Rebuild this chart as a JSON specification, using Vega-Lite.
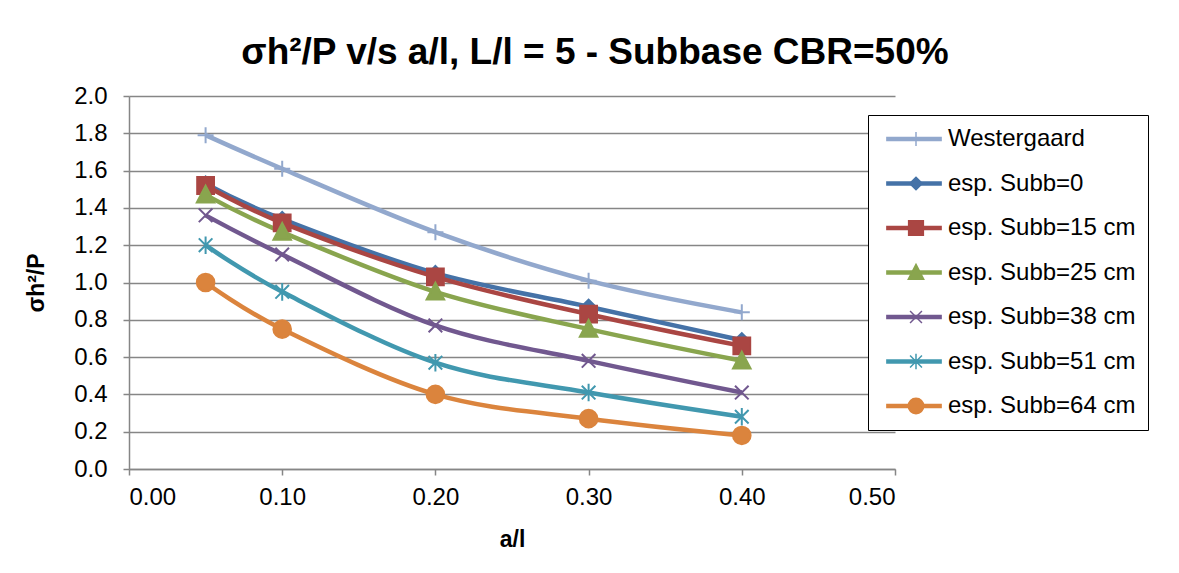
{
  "$schema": "https://vega.github.io/schema/vega-lite/v6.json",
  "autosize": {"type": "none"},
  "width": 766,
  "height": 373,
  "padding": {"left": 129, "top": 96, "right": 284, "bottom": 104},
  "background": "white",
  "config": {
    "view": {"stroke": null},
    "font": "Liberation Sans",
    "axis": {
      "domainColor": "#868686",
      "domainWidth": 1.5,
      "tickColor": "#868686",
      "tickWidth": 1.5,
      "tickSize": 6,
      "labelFont": "Liberation Sans",
      "labelFontSize": 24,
      "labelColor": "#000000",
      "titleFont": "Liberation Sans",
      "titleFontSize": 23,
      "titleFontWeight": "bold",
      "titleColor": "#000000",
      "gridColor": "#868686",
      "gridWidth": 1.5
    },
    "legend": {
      "title": null,
      "labelFont": "Liberation Sans",
      "labelFontSize": 24,
      "labelColor": "#000000",
      "labelLimit": 400,
      "rowPadding": 20.5,
      "symbolSize": 196,
      "symbolOffset": 22,
      "symbolOpacity": 1
    }
  },
  "title": {
    "text": "σh²/P v/s a/l, L/l = 5 - Subbase CBR=50%",
    "font": "Liberation Sans",
    "fontSize": 37,
    "fontWeight": "bold",
    "color": "#000000",
    "anchor": "middle",
    "frame": "group",
    "dx": 83,
    "offset": 12
  },
  "data": {
    "values": [
      {"series": "Westergaard", "x": 0.05, "y": 1.79},
      {"series": "Westergaard", "x": 0.1, "y": 1.61},
      {"series": "Westergaard", "x": 0.2, "y": 1.27},
      {"series": "Westergaard", "x": 0.3, "y": 1.01},
      {"series": "Westergaard", "x": 0.4, "y": 0.84},
      {"series": "esp. Subb=0", "x": 0.05, "y": 1.53},
      {"series": "esp. Subb=0", "x": 0.1, "y": 1.34},
      {"series": "esp. Subb=0", "x": 0.2, "y": 1.05},
      {"series": "esp. Subb=0", "x": 0.3, "y": 0.87},
      {"series": "esp. Subb=0", "x": 0.4, "y": 0.69},
      {"series": "esp. Subb=15 cm", "x": 0.05, "y": 1.52},
      {"series": "esp. Subb=15 cm", "x": 0.1, "y": 1.32},
      {"series": "esp. Subb=15 cm", "x": 0.2, "y": 1.03},
      {"series": "esp. Subb=15 cm", "x": 0.3, "y": 0.83},
      {"series": "esp. Subb=15 cm", "x": 0.4, "y": 0.66},
      {"series": "esp. Subb=25 cm", "x": 0.05, "y": 1.47},
      {"series": "esp. Subb=25 cm", "x": 0.1, "y": 1.27},
      {"series": "esp. Subb=25 cm", "x": 0.2, "y": 0.95},
      {"series": "esp. Subb=25 cm", "x": 0.3, "y": 0.75},
      {"series": "esp. Subb=25 cm", "x": 0.4, "y": 0.58},
      {"series": "esp. Subb=38 cm", "x": 0.05, "y": 1.36},
      {"series": "esp. Subb=38 cm", "x": 0.1, "y": 1.15},
      {"series": "esp. Subb=38 cm", "x": 0.2, "y": 0.77},
      {"series": "esp. Subb=38 cm", "x": 0.3, "y": 0.58},
      {"series": "esp. Subb=38 cm", "x": 0.4, "y": 0.41},
      {"series": "esp. Subb=51 cm", "x": 0.05, "y": 1.2},
      {"series": "esp. Subb=51 cm", "x": 0.1, "y": 0.95},
      {"series": "esp. Subb=51 cm", "x": 0.2, "y": 0.57},
      {"series": "esp. Subb=51 cm", "x": 0.3, "y": 0.41},
      {"series": "esp. Subb=51 cm", "x": 0.4, "y": 0.28},
      {"series": "esp. Subb=64 cm", "x": 0.05, "y": 1.0},
      {"series": "esp. Subb=64 cm", "x": 0.1, "y": 0.75},
      {"series": "esp. Subb=64 cm", "x": 0.2, "y": 0.4},
      {"series": "esp. Subb=64 cm", "x": 0.3, "y": 0.27},
      {"series": "esp. Subb=64 cm", "x": 0.4, "y": 0.18}
    ]
  },
  "encoding": {
    "x": {
      "field": "x",
      "type": "quantitative",
      "scale": {"domain": [0, 0.5], "nice": false},
      "axis": {
        "values": [0, 0.1, 0.2, 0.3, 0.4, 0.5],
        "format": ".2f",
        "title": "a/l",
        "grid": false,
        "labelPadding": 10,
        "titlePadding": 19
      }
    },
    "y": {
      "field": "y",
      "type": "quantitative",
      "scale": {"domain": [0, 2], "nice": false},
      "axis": {
        "values": [0, 0.2, 0.4, 0.6, 0.8, 1.0, 1.2, 1.4, 1.6, 1.8, 2.0],
        "format": ".1f",
        "title": "σh²/P",
        "grid": true,
        "labelPadding": 16,
        "titlePadding": 25
      }
    },
    "color": {
      "field": "series",
      "type": "nominal",
      "scale": {
        "domain": ["Westergaard", "esp. Subb=0", "esp. Subb=15 cm", "esp. Subb=25 cm", "esp. Subb=38 cm", "esp. Subb=51 cm", "esp. Subb=64 cm"],
        "range": ["#92A8CD", "#4572A7", "#AA4643", "#89A54E", "#71588F", "#4198AF", "#DB843D"]
      },
      "legend": {
        "orient": "none",
        "legendX": 739,
        "legendY": 19,
        "padding": 12,
        "fillColor": "white",
        "strokeColor": "#000000",
        "labelOffset": 22,
        "symbolType": "M-3.8,-0.15L3.8,-0.15L3.8,0.15L-3.8,0.15Z",
        "symbolStrokeWidth": 2.5
      }
    }
  },
  "layer": [
    {
      "mark": {"type": "line", "interpolate": "cardinal", "strokeWidth": 4.5}
    },
    {
      "mark": {"type": "point", "filled": true, "opacity": 1, "size": 256, "strokeWidth": 2},
      "encoding": {
        "shape": {
          "field": "series",
          "type": "nominal",
          "scale": {
            "domain": ["Westergaard", "esp. Subb=0", "esp. Subb=15 cm", "esp. Subb=25 cm", "esp. Subb=38 cm", "esp. Subb=51 cm", "esp. Subb=64 cm"],
            "range": [
              "M-1,0L1,0M0,-1L0,1",
              "M-0.9,0L0,-0.9L0.9,0L0,0.9Z",
              "M-1.05,-1.05L1.05,-1.05L1.05,1.05L-1.05,1.05Z",
              "M0,-1.15L1.1,0.95L-1.1,0.95Z",
              "M-0.85,-0.85L0.85,0.85M-0.85,0.85L0.85,-0.85",
              "M-0.85,-0.85L0.85,0.85M-0.85,0.85L0.85,-0.85M0,-1.1L0,1.1",
              "M-1.1,0A1.1,1.1 0 1,1 1.1,0A1.1,1.1 0 1,1 -1.1,0Z"
            ]
          },
          "legend": {
            "orient": "right",
            "offset": -44,
            "padding": 31,
            "labelExpr": "' '",
            "labelOffset": 0,
            "symbolFillColor": {"expr": "scale('color', datum.value)"},
            "symbolStrokeWidth": 1.5
          }
        },
        "stroke": {
          "field": "series",
          "type": "nominal",
          "scale": {
            "domain": ["Westergaard", "esp. Subb=0", "esp. Subb=15 cm", "esp. Subb=25 cm", "esp. Subb=38 cm", "esp. Subb=51 cm", "esp. Subb=64 cm"],
            "range": ["#92A8CD", "#4572A7", "#AA4643", "#89A54E", "#71588F", "#4198AF", "#DB843D"]
          },
          "legend": null
        }
      }
    }
  ]
}
